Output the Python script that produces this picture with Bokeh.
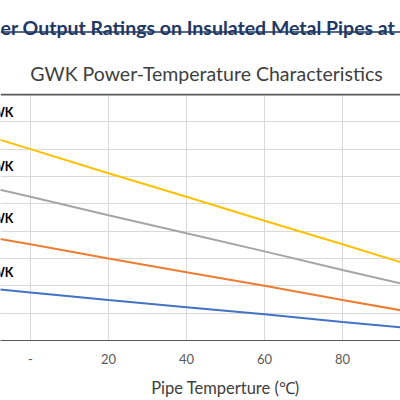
from bokeh.plotting import figure
from bokeh.models import Range1d, FixedTicker, Span, Grid
from bokeh.layouts import column
from bokeh.embed import file_html
from bokeh.resources import INLINE
from bokeh.core.properties import value

# ---- data ----
pipe_temp = [-20, 0, 20, 40, 60, 80, 100]
series_names = ["40GWK", "30GWK", "20GWK", "10GWK"]
power_40 = [39.4, 35.0, 30.6, 26.3, 21.9, 17.6, 13.2]
power_30 = [29.6, 26.3, 22.9, 19.6, 16.3, 12.9, 9.6]
power_20 = [20.1, 17.6, 15.0, 12.5, 10.0, 7.4, 4.9]
power_10 = [10.1, 8.8, 7.4, 6.1, 4.8, 3.4, 2.1]
x_ticks = [0, 20, 40, 60, 80, 100]
x_tick_labels = {0: "-"}
y_grid_values = [0, 5, 10, 15, 20, 25, 30, 35, 40, 45]
header_text = "er Output Ratings on Insulated Metal Pipes at"
chart_title = "GWK Power-Temperature Characteristics"
x_title = "Pipe Temperture (\u2103)"

# ---- styles ----
FONT = "Lato"
NAVY = "#1F3864"
TITLE_C = "#404040"
TICK_C = "#595959"
GRID_C = "#D9D9D9"
COLORS = ["#FFC000", "#A5A5A5", "#ED7D31", "#4472C4"]
W = 400
HDR_H = 93
FOOT_H = 28


def plain(fig):
    fig.grid.visible = False
    fig.outline_line_color = None
    return fig


# ---- header figure (page heading + chart title) ----
hdr = plain(figure(width=W, height=HDR_H, x_range=Range1d(0, W), y_range=Range1d(HDR_H, 0),
                   output_backend="svg", toolbar_location=None,
                   x_axis_location=None, y_axis_location=None, min_border=0))
hdr.text(x=[0], y=[26.5], text=[header_text], text_font=value(FONT),
         text_font_style="bold", text_font_size="19.5px", text_color=NAVY,
         text_baseline="alphabetic", text_align="left")
hdr.segment(x0=[0], y0=[31.5], x1=[W], y1=[31.5], line_color=NAVY, line_width=1.5)
hdr.text(x=[206], y=[73], text=[chart_title], text_font=value(FONT),
         text_font_size="19.5px", text_color=TITLE_C,
         text_baseline="alphabetic", text_align="center")

# ---- chart figure ----
p = figure(width=W, height=400 - HDR_H - FOOT_H, x_range=Range1d(-7.69, 94.87),
           y_range=Range1d(0, 45.18), output_backend="svg", toolbar_location=None,
           y_axis_location=None, min_border_left=0, min_border_right=0,
           min_border_top=0, min_border_bottom=32)
p.outline_line_color = None
p.center = [r for r in p.center if not isinstance(r, Grid)]
p.add_layout(Grid(dimension=0, ticker=FixedTicker(ticks=x_ticks),
                  grid_line_color=GRID_C, grid_line_width=1), "center")
p.add_layout(Grid(dimension=1, ticker=FixedTicker(ticks=y_grid_values),
                  grid_line_color=GRID_C, grid_line_width=1), "center")
p.add_layout(Span(location=y_grid_values[-1], dimension="width",
                  line_color="#595959", line_width=2))

for ys, c in zip([power_40, power_30, power_20, power_10], COLORS):
    p.line(pipe_temp, ys, line_color=c, line_width=2)

label_y = [s[0] + 2.3 for s in [power_40, power_30, power_20, power_10]]
p.text(x=[-4.4] * len(series_names), y=label_y, text=series_names,
       text_font=value(FONT), text_font_style="bold", text_font_size="12.5px",
       text_color="#000000", text_align="right", text_baseline="middle")

ax = p.xaxis[0]
ax.ticker = FixedTicker(ticks=x_ticks)
ax.major_label_overrides = x_tick_labels
ax.axis_line_color = "#595959"
ax.axis_line_width = 1
ax.major_tick_line_color = None
ax.minor_tick_line_color = None
ax.major_tick_out = 0
ax.major_label_standoff = 13
ax.major_label_text_font = FONT
ax.major_label_text_font_size = "13px"
ax.major_label_text_color = TICK_C

# ---- footer figure (x axis title) ----
foot = plain(figure(width=W, height=FOOT_H, x_range=Range1d(0, W), y_range=Range1d(FOOT_H, 0),
                    output_backend="svg", toolbar_location=None,
                    x_axis_location=None, y_axis_location=None, min_border=0))
foot.text(x=[225], y=[15], text=[x_title], text_font=value(FONT),
          text_font_size="16.5px", text_color=TITLE_C,
          text_baseline="middle", text_align="center")

layout = column(hdr, p, foot, spacing=0)

open("out.html", "w").write(file_html(layout, INLINE))
